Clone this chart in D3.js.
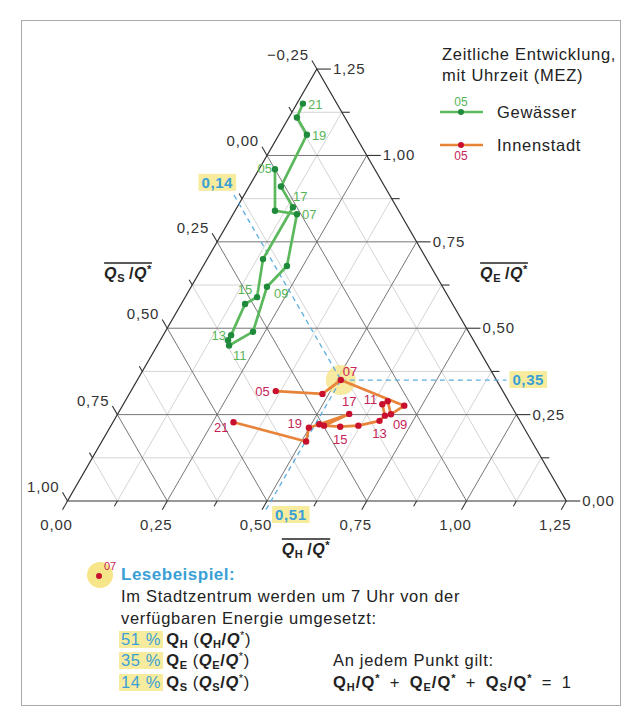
<!DOCTYPE html>
<html>
<head>
<meta charset="utf-8">
<script src="https://cdn.jsdelivr.net/npm/d3@7"></script>
<style>
  body { margin: 0; background: #fff; }
  svg { display: block; font-family: "Liberation Sans", Arial, Helvetica, sans-serif; }
  .lbl { font-size: 15px; fill: #333; letter-spacing: 0.8px; }
  .hl { font-size: 15px; fill: #3a9fd6; letter-spacing: 0.6px; }
  .txt { font-size: 16.5px; fill: #222; letter-spacing: 0.7px; }
</style>
</head>
<body>
<svg id="chart"></svg>
<script>
// Stunden (MEZ)
let hours = ["05","06","07","08","09","10","11","12","13","14","15","16","17","18","19","20","21"];
let labelHours = ["05","07","09","11","13","15","17","19","21"];

// Gewässer: Q_H/Q* und Q_E/Q*
let gewQH = [0.04, 0.10, 0.16, 0.21, 0.19, 0.22, 0.18, 0.17, 0.17, 0.16, 0.18, 0.14, 0.14, 0.08, 0.07, 0.02, 0.015];
let gewQE = [0.96, 0.84, 0.83, 0.68, 0.62, 0.49, 0.45, 0.465, 0.48, 0.57, 0.59, 0.70, 0.85, 0.91, 1.06, 1.11, 1.15];

// Innenstadt: Q_H/Q* und Q_E/Q*
let innQH = [0.363, 0.484, 0.51, 0.706, 0.685, 0.658, 0.649, 0.672, 0.666, 0.620, 0.576, 0.534, 0.580, 0.520, 0.499, 0.512, 0.302];
let innQE = [0.318, 0.310, 0.35, 0.276, 0.251, 0.289, 0.280, 0.247, 0.232, 0.218, 0.215, 0.218, 0.252, 0.222, 0.212, 0.172, 0.228];

// Achsen
let majorTicks = [0, 0.25, 0.5, 0.75, 1.0, 1.25];
let minorTicks = [0.125, 0.375, 0.625, 0.875, 1.125];
let sTicks = [-0.25, 0, 0.25, 0.5, 0.75, 1.0];

// Lesebeispiel 07 Uhr Innenstadt
let exampleQH = 0.51, exampleQE = 0.35, exampleQS = 0.14;

let width = 627, height = 715;
let svg = d3.select("#chart").attr("width", width).attr("height", height);

let loc = d3.formatLocale({decimal: ",", thousands: ".", grouping: [3], currency: ["", ""], minus: "\u2212"});
let fmt = loc.format(".2f");

// Rahmen
svg.append("rect").attr("x", 21.5).attr("y", 20.5).attr("width", 599).attr("height", 685)
  .attr("fill", "none").attr("stroke", "#aaa").attr("stroke-width", 1);

let x0 = 67.5, y0 = 501, side = 498.75;
let sx = d3.scaleLinear().domain([0, 1.25]).range([x0, x0 + side]);
let sy = d3.scaleLinear().domain([0, 1.25]).range([y0, y0 - side * Math.sqrt(3) / 2]);

// ternaere Projektion (QH, QE) -> Bildschirm
function proj(qh, qe) { return [sx(qh + qe / 2), sy(qe)]; }

let g = svg.append("g");

// Gitter: Linie fuer konstanten Wert jeder Komponente
function gridLine(kind, v) {
  if (kind === "E") return [proj(0, v), proj(1.25 - v, v)];
  if (kind === "H") return [proj(v, 0), proj(v, 1.25 - v)];
  // S konstant: QH + QE = 1 - v
  let t = 1 - v;
  return [proj(0, t), proj(t, 0)];
}

let minorLines = [];
minorTicks.forEach(v => { minorLines.push(gridLine("E", v)); minorLines.push(gridLine("H", v)); });
[-0.125, 0.125, 0.375, 0.625, 0.875].forEach(v => minorLines.push(gridLine("S", v)));
let majorLines = [];
[0.25, 0.5, 0.75, 1.0].forEach(v => { majorLines.push(gridLine("E", v)); majorLines.push(gridLine("H", v)); });
[0, 0.25, 0.5, 0.75].forEach(v => majorLines.push(gridLine("S", v)));

let line = d3.line();
g.selectAll(".minor").data(minorLines).enter().append("path")
  .attr("d", line).attr("stroke", "#d4d4d4").attr("stroke-width", 1).attr("fill", "none");
g.selectAll(".major").data(majorLines).enter().append("path")
  .attr("d", line).attr("stroke", "#666").attr("stroke-width", 0.9).attr("fill", "none");

// Dreieck
let corners = [proj(0, 0), proj(1.25, 0), proj(0, 1.25)];
g.append("path").attr("d", line(corners) + "Z")
  .attr("fill", "none").attr("stroke", "#333").attr("stroke-width", 1.2);

// Ticks unten (Q_H)
let dirB = [-0.5, Math.sqrt(3) / 2], dirL = [-0.5, -Math.sqrt(3) / 2];
majorTicks.concat(minorTicks).forEach(v => {
  let p = proj(v, 0), len = minorTicks.includes(v) ? 6 : 10;
  g.append("line").attr("x1", p[0]).attr("y1", p[1]).attr("x2", p[0] + dirB[0] * len).attr("y2", p[1] + dirB[1] * len)
    .attr("stroke", "#333").attr("stroke-width", 1.1);
});
majorTicks.forEach(v => {
  let p = proj(v, 0);
  g.append("text").attr("class", "lbl").attr("x", p[0] - 11).attr("y", p[1] + 29).attr("text-anchor", "middle").text(fmt(v));
});

// Ticks rechts (Q_E)
majorTicks.concat(minorTicks).forEach(v => {
  let p = proj(1.25 - v, v), len = minorTicks.includes(v) ? 8 : 14;
  g.append("line").attr("x1", p[0]).attr("y1", p[1]).attr("x2", p[0] + len).attr("y2", p[1])
    .attr("stroke", "#333").attr("stroke-width", 1.1);
});
majorTicks.forEach(v => {
  let p = proj(1.25 - v, v);
  g.append("text").attr("class", "lbl").attr("x", p[0] + 16).attr("y", p[1] + 5).text(fmt(v));
});

// Ticks links (Q_S)
sTicks.concat([-0.125, 0.125, 0.375, 0.625, 0.875]).forEach(v => {
  let p = proj(0, 1 - v), len = sTicks.includes(v) ? 10 : 6;
  g.append("line").attr("x1", p[0]).attr("y1", p[1]).attr("x2", p[0] + dirL[0] * len).attr("y2", p[1] + dirL[1] * len)
    .attr("stroke", "#333").attr("stroke-width", 1.1);
});
sTicks.forEach(v => {
  let p = proj(0, 1 - v);
  g.append("text").attr("class", "lbl").attr("x", p[0] - 8).attr("y", p[1] - 9).attr("text-anchor", "end").text(fmt(v));
});

// Achsentitel mit Ueberstrich
function axisTitle(parent, x, y, sub) {
  let t = parent.append("text").attr("x", x).attr("y", y).attr("text-anchor", "middle")
    .style("font-size", "16px").style("font-weight", "bold").style("letter-spacing", "0.6px").attr("fill", "#222");
  t.append("tspan").style("font-style", "italic").text("Q");
  t.append("tspan").attr("dy", 3).style("font-size", "11px").text(sub);
  t.append("tspan").attr("dy", -3).text("\u2009/");
  t.append("tspan").style("font-style", "italic").text("Q");
  t.append("tspan").attr("dy", -6).style("font-size", "11px").text("*");
  let w = t.node().getComputedTextLength();
  parent.append("line").attr("x1", x - w / 2).attr("x2", x + w / 2).attr("y1", y - 16).attr("y2", y - 16)
    .attr("stroke", "#222").attr("stroke-width", 1.3);
}
axisTitle(g, 128, 279, "S");
axisTitle(g, 504, 279, "E");
axisTitle(g, 306, 555, "H");

// Lesebeispiel im Diagramm
let pEx = proj(exampleQH, exampleQE);
g.append("circle").attr("cx", pEx[0]).attr("cy", pEx[1]).attr("r", 15).attr("fill", "#f7e58a").attr("opacity", 0.8);
let dash = "5,4";
let pS = proj(0, 1 - exampleQS);
let pE = proj(1.25 - exampleQE, exampleQE);
let pH = proj(exampleQH, 0);
let blue = "#5aaee0";
[[[pS[0] + dirL[0] * 10, pS[1] + dirL[1] * 10], pEx],
 [pEx, [pE[0] + 10, pE[1]]],
 [[pH[0] + dirB[0] * 10, pH[1] + dirB[1] * 10], pEx]].forEach(seg => {
  g.append("path").attr("d", line(seg)).attr("stroke", blue).attr("stroke-width", 1.3)
    .attr("stroke-dasharray", dash).attr("fill", "none");
});

function highlight(parent, x, y, txt, anchor) {
  let t = parent.append("text").attr("class", "hl").attr("x", x).attr("y", y).attr("text-anchor", anchor || "start")
    .style("font-weight", "bold").text(txt);
  let b = t.node().getBBox();
  parent.insert("rect", "text").attr("x", b.x - 3).attr("y", b.y).attr("width", b.width + 6).attr("height", b.height)
    .attr("fill", "#f7ec9e");
  t.raise();
}
highlight(g, pS[0] - 6, pS[1] - 16, fmt(exampleQS), "end");
highlight(g, pE[0] + 16, pE[1] + 5, fmt(exampleQE), "start");
highlight(g, pH[0] + 4, pH[1] + 19, fmt(exampleQH), "start");

// Datenreihen
function series(qh, qe, lineColor, dotColor, labelColor, offsets) {
  let pts = hours.map((h, i) => ({h: h, p: proj(qh[i], qe[i])}));
  g.append("path").datum(pts.map(d => d.p)).attr("d", d3.line())
    .attr("fill", "none").attr("stroke", lineColor).attr("stroke-width", 2.7).attr("stroke-linejoin", "round");
  g.selectAll(null).data(pts).enter().append("circle")
    .attr("cx", d => d.p[0]).attr("cy", d => d.p[1]).attr("r", 3.2).attr("fill", dotColor);
  g.selectAll(null).data(pts.filter(d => labelHours.includes(d.h))).enter().append("text")
    .attr("x", d => d.p[0] + offsets[d.h][0]).attr("y", d => d.p[1] + offsets[d.h][1])
    .attr("text-anchor", d => offsets[d.h][2])
    .style("font-size", "13px").attr("fill", labelColor).text(d => d.h);
}

let gewOffsets = {"05": [-3, 4, "end"], "07": [5, 5, "start"], "09": [7, 11, "start"], "11": [4, 14, "start"],
  "13": [-5, 5, "end"], "15": [-12, -3, "middle"], "17": [0, -6, "start"], "19": [5, 5, "start"], "21": [5, 5, "start"]};
let innOffsets = {"05": [-6, 5, "end"], "07": [2, -4, "start"], "09": [2, 15, "start"], "11": [-5, 0, "end"],
  "13": [0, 17, "middle"], "15": [0, 17, "middle"], "17": [0, -8, "middle"], "19": [-7, 0, "end"], "21": [-5, 10, "end"]};

series(gewQH, gewQE, "#5cb85c", "#1f8a3b", "#56b556", gewOffsets);
series(innQH, innQE, "#e8843a", "#c8102e", "#c62358", innOffsets);

// Legende
let lg = svg.append("g");
lg.append("text").attr("class", "txt").attr("x", 442).attr("y", 60).text("Zeitliche Entwicklung,");
lg.append("text").attr("class", "txt").attr("x", 442).attr("y", 81).text("mit Uhrzeit (MEZ)");
[[112, "#5cb85c", "#1f8a3b", "#56b556", "Gewässer", -6], [145, "#e8843a", "#c8102e", "#c62358", "Innenstadt", 15]].forEach(r => {
  lg.append("line").attr("x1", 440).attr("x2", 483).attr("y1", r[0]).attr("y2", r[0]).attr("stroke", r[1]).attr("stroke-width", 2.6);
  lg.append("circle").attr("cx", 461).attr("cy", r[0]).attr("r", 3).attr("fill", r[2]);
  lg.append("text").attr("x", 461).attr("y", r[0] + r[5]).attr("text-anchor", "middle").style("font-size", "12px").attr("fill", r[3]).text("05");
  lg.append("text").attr("class", "txt").attr("x", 497).attr("y", r[0] + 6).text(r[4]);
});

// Lesebeispiel unten
let ex = svg.append("g");
ex.append("circle").attr("cx", 100).attr("cy", 575).attr("r", 13).attr("fill", "#f7e58a");
ex.append("circle").attr("cx", 99).attr("cy", 576).attr("r", 3).attr("fill", "#c8102e");
ex.append("text").attr("x", 104).attr("y", 570).style("font-size", "11px").attr("fill", "#c62358").text("07");
ex.append("text").attr("x", 121).attr("y", 580).style("font-size", "17px").style("font-weight", "bold")
  .style("letter-spacing", "0.5px").attr("fill", "#3a9fd6").text("Lesebeispiel:");
ex.append("text").attr("class", "txt").attr("x", 121).attr("y", 602).text("Im Stadtzentrum werden um 7 Uhr von der");
ex.append("text").attr("class", "txt").attr("x", 121).attr("y", 624).text("verfügbaren Energie umgesetzt:");

let exRows = [[645, "51 %", "H"], [666, "35 %", "E"], [688, "14 %", "S"]];
exRows.forEach(r => {
  let t = ex.append("text").attr("x", 121).attr("y", r[0]).style("font-size", "16.5px").style("letter-spacing", "0.6px");
  t.append("tspan").attr("fill", "#3a9fd6").text(r[1]);
  let tb = t.node().getBBox();
  ex.insert("rect", "text").attr("x", tb.x - 2).attr("y", tb.y + 1).attr("width", tb.width + 4).attr("height", tb.height - 1).attr("fill", "#f7ec9e");
  t.append("tspan").attr("fill", "#222").style("font-weight", "bold").text(" Q");
  t.append("tspan").attr("fill", "#222").style("font-weight", "bold").style("font-size", "11px").attr("dy", 3).text(r[2]);
  t.append("tspan").attr("fill", "#222").attr("dy", -3).text(" (");
  t.append("tspan").attr("fill", "#222").style("font-weight", "bold").style("font-style", "italic").text("Q");
  t.append("tspan").attr("fill", "#222").style("font-weight", "bold").style("font-size", "11px").attr("dy", 3).text(r[2]);
  t.append("tspan").attr("fill", "#222").style("font-weight", "bold").attr("dy", -3).text("/");
  t.append("tspan").attr("fill", "#222").style("font-weight", "bold").style("font-style", "italic").text("Q");
  t.append("tspan").attr("fill", "#222").style("font-size", "11px").attr("dy", -6).text("*");
  t.append("tspan").attr("fill", "#222").attr("dy", 6).text(")");
});

ex.append("text").attr("class", "txt").attr("x", 333).attr("y", 666).text("An jedem Punkt gilt:");
let f = ex.append("text").attr("x", 333).attr("y", 688).style("font-size", "16.5px").style("font-weight", "bold")
  .style("letter-spacing", "1px").attr("fill", "#222");
["H", "E", "S"].forEach((s, i) => {
  f.append("tspan").text("Q");
  f.append("tspan").style("font-size", "11px").attr("dy", 3).text(s);
  f.append("tspan").attr("dy", -3).text("/Q");
  f.append("tspan").style("font-size", "11px").attr("dy", -6).text("*");
  f.append("tspan").attr("dy", 6).style("font-weight", "normal").text(i < 2 ? "\u2002+\u2002" : "\u2002=\u20021");
});
</script>
</body>
</html>
